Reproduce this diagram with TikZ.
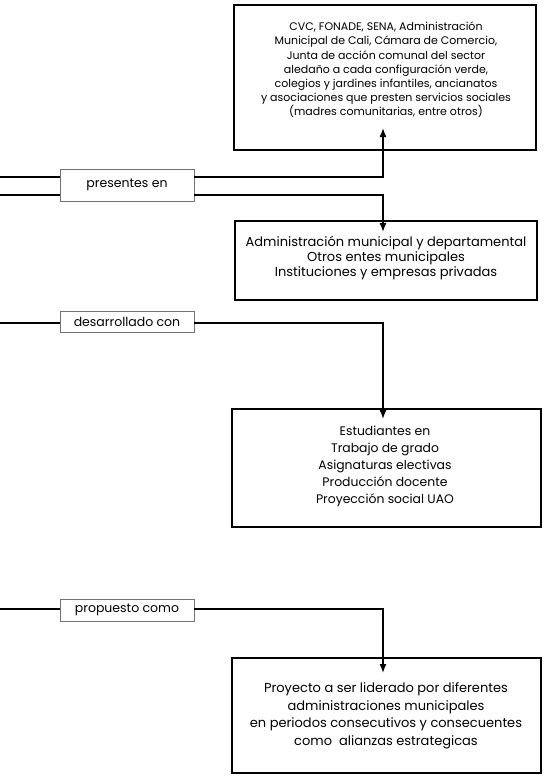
\documentclass[tikz,border=0pt]{standalone}
\usepackage{fontspec}
\setmainfont{Poppins}
\usetikzlibrary{arrows.meta}
\begin{document}
\begin{tikzpicture}[x=1pt,y=-1pt,
  bigbox/.style={draw, line width=2pt, inner sep=0pt},
  labbox/.style={draw=black!55, line width=0.8pt, minimum width=134pt, inner sep=0pt, font=\fontsize{12.5}{14}\selectfont},
  txt/.style={align=center, inner sep=0pt},
  conn/.style={line width=1.4pt},
  arr/.style={line width=1.4pt, -{Latex[length=9pt,width=7pt]}}
]
\useasboundingbox (0,0) rectangle (548,781);
% boxes
\node[bigbox, minimum width=302pt, minimum height=145pt] (b1) at (385,77.5) {};
\node[txt, font=\fontsize{11}{14.2}\selectfont] (t1) at (386,70) {CVC, FONADE, SENA, Administración\\Municipal de Cali, Cámara de Comercio,\\Junta de acción comunal del sector\\aledaño a cada configuración verde,\\colegios y jardines infantiles, ancianatos\\y asociaciones que presten servicios sociales\\(madres comunitarias, entre otros)};
\node[bigbox, minimum width=302pt, minimum height=79pt] (b2) at (386,260.5) {};
\node[txt, font=\fontsize{13}{15}\selectfont] (t2) at (386,258) {Administración municipal y departamental\\Otros entes municipales\\Instituciones y empresas privadas};
\node[bigbox, minimum width=309pt, minimum height=118pt] (b3) at (386.5,468) {};
\node[txt, font=\fontsize{12.4}{17}\selectfont] (t3) at (385,466) {Estudiantes en\\Trabajo de grado\\Asignaturas electivas\\Producción docente\\Proyección social UAO};
\node[bigbox, minimum width=309pt, minimum height=115pt] (b4) at (386.5,715.5) {};
\node[txt, font=\fontsize{13}{17.5}\selectfont] (t4) at (386,716) {Proyecto a ser liderado por diferentes\\administraciones municipales\\en periodos consecutivos y consecuentes\\como\ \ alianzas estrategicas};
% labels
\node[labbox, minimum height=32pt] (l1) at (127,185) {presentes en};
\node[labbox, minimum height=21pt] (l2) at (127,321.5) {desarrollado con};
\node[labbox, minimum height=22pt] (l3) at (127,610) {propuesto como};
% free ends
\coordinate (s1a) at (0,177);
\coordinate (s1b) at (0,195);
\coordinate (s2) at (0,323);
\coordinate (s3) at (0,609);
\coordinate (e1) at (383,128);
\coordinate (e2) at (383,232);
\coordinate (e3) at (383,419);
\coordinate (e4) at (383,673);
% connectors
\draw[conn] (s1a) -- (l1.west |- s1a);
\draw[conn] (s1b) -- (l1.west |- s1b);
\draw[arr] (l1.east |- s1a) -| (e1);
\draw[arr] (l1.east |- s1b) -| (e2);
\draw[conn] (s2) -- (l2.west |- s2);
\draw[arr] (l2.east |- s2) -| (e3);
\draw[conn] (s3) -- (l3.west |- s3);
\draw[arr] (l3.east |- s3) -| (e4);
\end{tikzpicture}
\end{document}
